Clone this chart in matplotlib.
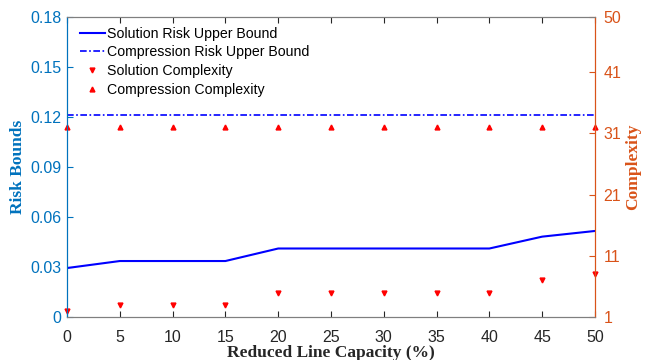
import numpy as np
import matplotlib.pyplot as plt

capacity = [0, 5, 10, 15, 20, 25, 30, 35, 40, 45, 50]
solution_risk = [0.0295, 0.0337, 0.0337, 0.0337, 0.0412, 0.0412, 0.0412, 0.0412, 0.0412, 0.0483, 0.0517]
compression_risk = [0.121] * 11
solution_complexity = [2, 3, 3, 3, 5, 5, 5, 5, 5, 7, 8]
compression_complexity = [32] * 11

left_ticks = [0, 0.03, 0.06, 0.09, 0.12, 0.15, 0.18]
left_labels = ["0", "0.03", "0.06", "0.09", "0.12", "0.15", "0.18"]
right_ticks = [1, 11, 21, 31, 41, 50]

blue_axis = "#0072BD"
orange_axis = "#D95319"
gray = "#262626"

plt.rcParams["font.family"] = ["Liberation Sans", "DejaVu Sans"]

fig = plt.figure(figsize=(6.47, 3.6), dpi=100)
ax = fig.add_axes([0.1036, 0.1186, 0.816, 0.835])
ax2 = ax.twinx()

l1, = ax.plot(capacity, solution_risk, color="#0000FF", lw=1.5, label="Solution Risk Upper Bound")
l2, = ax.plot(capacity, compression_risk, color="#0000FF", lw=1.2, dashes=(4, 1.5, 1, 1.5),
              label="Compression Risk Upper Bound")
m1, = ax2.plot(capacity, solution_complexity, "v", color="#FF0000", ms=3.5, ls="none",
               label="Solution Complexity", clip_on=False)
m2, = ax2.plot(capacity, compression_complexity, "^", color="#FF0000", ms=3.5, ls="none",
               label="Compression Complexity", clip_on=False)

ax.set_xlim(0, 50)
ax.set_xticks(capacity)
ax.set_ylim(0, 0.18)
ax.set_yticks(left_ticks)
ax.set_yticklabels(left_labels)
ax2.set_ylim(1, 50)
ax2.set_yticks(right_ticks)

ax.tick_params(axis="x", direction="in", top=True, labelsize=11.5, colors=gray, length=4, pad=9)
ax.tick_params(axis="y", direction="in", labelsize=11.5, colors=blue_axis, length=4, pad=4)
ax2.tick_params(axis="y", direction="in", labelsize=11.5, colors=orange_axis, length=4, pad=6)

for a in (ax, ax2):
    a.spines["top"].set_color("#7f7f7f")
    a.spines["bottom"].set_color("#7f7f7f")
    a.spines["left"].set_color(blue_axis)
    a.spines["right"].set_color(orange_axis)

ax.set_xlabel("Reduced Line Capacity (%)", family=["Liberation Serif"], fontweight="bold",
              fontsize=12.5, color=gray, labelpad=0)
ax.set_ylabel("Risk Bounds", family=["Liberation Serif"], fontweight="bold",
              fontsize=12.5, color=blue_axis, labelpad=3)
ax2.set_ylabel("Complexity", family=["Liberation Serif"], fontweight="bold",
               fontsize=12.5, color=orange_axis, labelpad=3)

ax2.legend(handles=[l1, l2, m1, m2], loc="upper left", frameon=False, fontsize=10.2,
           handlelength=1.8, handletextpad=0.1, labelspacing=0.33, numpoints=1,
           borderaxespad=0.3, bbox_to_anchor=(0.005, 1.0))

fig.savefig("out.png", dpi=100)
